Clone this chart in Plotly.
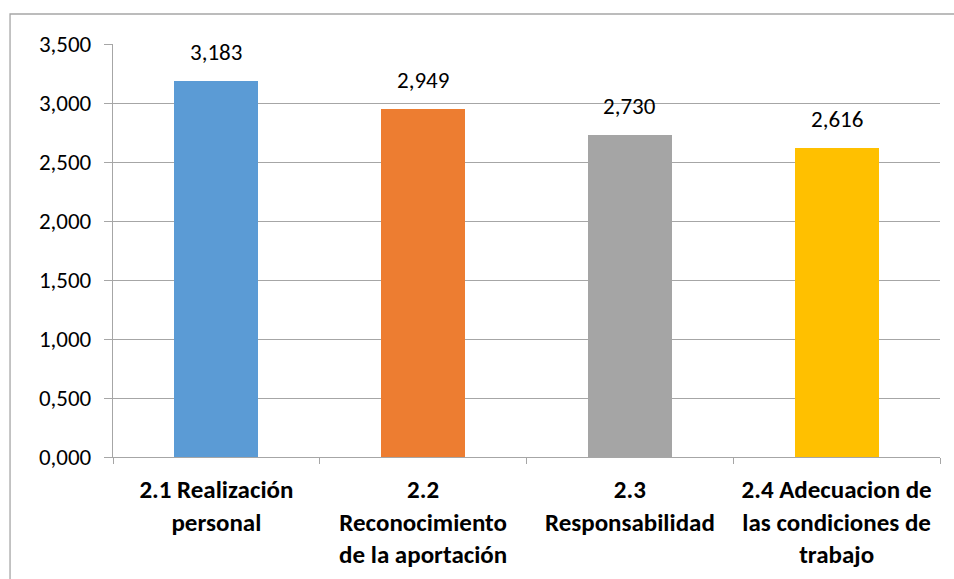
import plotly.graph_objects as go

# Dimension scores for the work-climate survey
categories = [
    "2.1 Realización<br>personal",
    "2.2<br>Reconocimiento<br>de la aportación",
    "2.3<br>Responsabilidad",
    "2.4 Adecuacion de<br>las condiciones de<br>trabajo",
]
values = [3.183, 2.949, 2.730, 2.616]
colors = ["#5B9BD5", "#ED7D31", "#A5A5A5", "#FFC000"]
y_ticks = [0, 0.5, 1.0, 1.5, 2.0, 2.5, 3.0, 3.5]

font_family = "Carlito, Calibri, Lato, sans-serif"
num_size = 23

fig = go.Figure(
    go.Bar(
        x=categories,
        y=values,
        marker=dict(color=colors, line=dict(width=0)),
        width=0.406,
        cliponaxis=False,
    )
)

# Value labels above each bar
for cat, val in zip(categories, values):
    fig.add_annotation(
        x=cat, y=val, xref="x", yref="y",
        text=f"{val:.3f}".replace(".", ","),
        showarrow=False, yanchor="bottom", yshift=13,
        font=dict(size=num_size, color="#000000", family=font_family),
    )

fig.update_layout(
    width=954,
    height=579,
    margin=dict(l=113, r=14, t=44, b=122),
    paper_bgcolor="white",
    plot_bgcolor="white",
    separators=",.",
    showlegend=False,
    bargap=0,
    font=dict(family=font_family, color="#000000"),
    shapes=[
        dict(
            type="rect", xref="paper", yref="paper",
            x0=-0.1245, x1=1.2, y0=-0.6, y1=1.0726,
            line=dict(color="#A6A6A6", width=1.3),
            fillcolor="rgba(0,0,0,0)", layer="below",
        )
    ],
)

fig.update_xaxes(
    type="category",
    automargin=False,
    showgrid=False,
    showline=True,
    linecolor="#A6A6A6",
    linewidth=1.3,
    ticks="outside",
    tickson="boundaries",
    ticklen=6,
    tickcolor="#A6A6A6",
    tickfont=dict(size=25, family=font_family, color="#000000", weight="bold"),
    ticklabelstandoff=10,
)

fig.update_yaxes(
    automargin=False,
    range=[0, 3.5],
    tickvals=y_ticks,
    tickformat=".3f",
    showgrid=True,
    gridcolor="#A6A6A6",
    gridwidth=1.3,
    showline=True,
    linecolor="#A6A6A6",
    linewidth=1.3,
    ticks="outside",
    ticklen=8,
    tickcolor="#A6A6A6",
    tickfont=dict(size=num_size, family=font_family, color="#000000"),
    ticklabelstandoff=8,
    zeroline=False,
)

fig.write_html("out.html")
